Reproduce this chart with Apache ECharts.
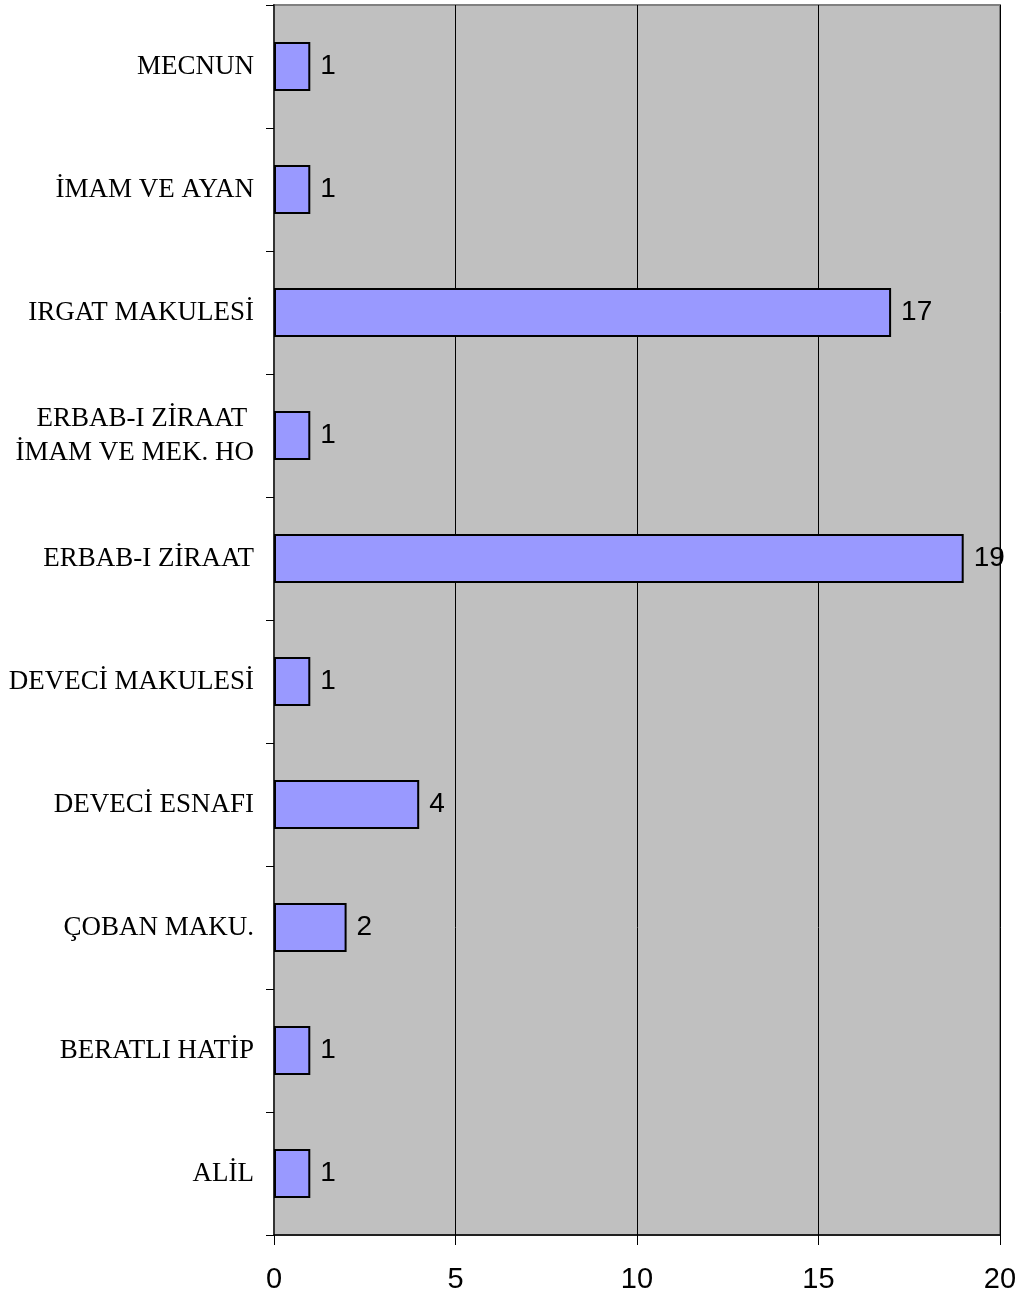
<!DOCTYPE html>
<html><head><meta charset="utf-8">
<script src="https://cdn.jsdelivr.net/npm/echarts@6/dist/echarts.min.js"></script>
<style>html,body{margin:0;padding:0;background:#fff}#c{width:1026px;height:1299px}</style>
</head><body><div id="c"></div>
<script>
// bottom-to-top order
const categories = ['ALİL','BERATLI HATİP','ÇOBAN MAKU.','DEVECİ ESNAFI','DEVECİ MAKULESİ','ERBAB-I ZİRAAT','ERBAB-I ZİRAAT \nİMAM VE MEK. HO','IRGAT MAKULESİ','İMAM VE AYAN','MECNUN'];
const values = [1,1,2,4,1,19,1,17,1,1];
const xTicks = [0,5,10,15,20];

const chart = echarts.init(document.getElementById('c'), null, {renderer:'canvas'});
chart.setOption({
  animation:false,
  grid:{left:274,right:26,top:5,bottom:64,show:true,backgroundColor:'#C0C0C0',borderColor:'#808080',borderWidth:2},
  xAxis:{type:'value',min:xTicks[0],max:xTicks[xTicks.length-1],interval:5,
    axisLine:{show:true,lineStyle:{color:'#000',width:1.5}},
    axisTick:{show:true,length:10,lineStyle:{color:'#000'}},
    axisLabel:{fontFamily:'Liberation Sans',fontSize:29,color:'#000',margin:30},
    splitLine:{show:true,lineStyle:{color:'#000',width:1}}},
  yAxis:{type:'category',data:categories,
    axisLine:{show:true,lineStyle:{color:'#333',width:2}},
    axisTick:{show:true,length:8,alignWithLabel:false,lineStyle:{color:'#000'}},
    axisLabel:{fontFamily:'Liberation Serif',fontSize:27,color:'#000',margin:20,lineHeight:34,align:'right'},
    splitLine:{show:false}},
  series:[{type:'bar',data:values,barWidth:'40%',
    itemStyle:{color:'#9999FF',borderColor:'#000',borderWidth:2},
    label:{show:true,position:'right',distance:10,fontFamily:'Liberation Sans',fontSize:28,color:'#000'}}]
});
</script></body></html>
